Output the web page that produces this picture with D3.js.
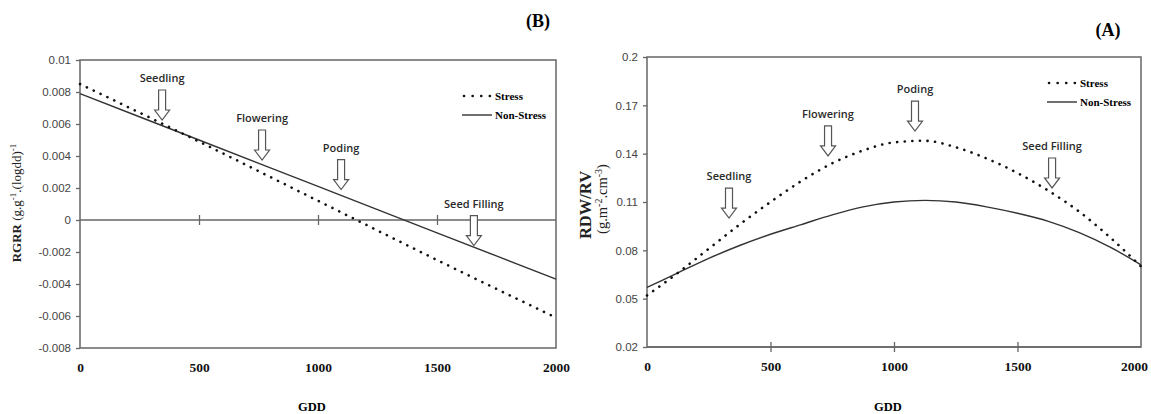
<!DOCTYPE html>
<html>
<head>
<meta charset="utf-8">
<script src="https://cdn.jsdelivr.net/npm/d3@7"></script>
<style>
  body { margin: 0; background: #fff; }
  .tick text { font-family: "Liberation Sans Narrow", "Liberation Sans", sans-serif; }
</style>
</head>
<body>
<div id="chart"></div>
<script>
// ---- data ----
var gddTicks = [0, 500, 1000, 1500, 2000];

// panel B : RGRR
var gddB = [0, 500, 1000, 1500, 2000];
var stressB = [0.0085, 0.0049, 0.0012, -0.0025, -0.0061];
var nonStressB = [0.0079, 0.0050, 0.0021, -0.0008, -0.0037];
var yTicksB = [-0.008, -0.006, -0.004, -0.002, 0, 0.002, 0.004, 0.006, 0.008, 0.01];

// panel A : RDW/RV
var gddA = [0, 125, 250, 375, 500, 625, 750, 875, 1000, 1125, 1250, 1375, 1500, 1625, 1750, 1875, 2000];
var stressA = [0.052, 0.066, 0.081, 0.096, 0.110, 0.123, 0.134, 0.142, 0.147, 0.148, 0.144, 0.137, 0.128, 0.117, 0.104, 0.088, 0.070];
var nonStressA = [0.057, 0.066, 0.075, 0.083, 0.090, 0.096, 0.102, 0.107, 0.110, 0.111, 0.110, 0.107, 0.103, 0.098, 0.091, 0.082, 0.071];
var yTicksA = [0.02, 0.05, 0.08, 0.11, 0.14, 0.17, 0.2];

// growth stage arrows (GDD, value at arrow tip)
var stages = ["Seedling", "Flowering", "Poding", "Seed Filling"];
var stageGddB = [345, 765, 1097, 1655];
var stageValB = [0.00625, 0.00375, 0.0019, -0.0016];
var stageGddA = [332, 733, 1085, 1640];
var stageValA = [0.100, 0.1386, 0.154, 0.1187];

var width = 1151, height = 414;
var axisCol = "#666";

var svg = d3.select("#chart").append("svg")
    .attr("width", width)
    .attr("height", height)
    .style("background", "#fff");

function zip(xs, ys) {
  return xs.map(function(g, i) { return {gdd: g, v: ys[i]}; });
}

function drawPanel(p) {
  var x = d3.scaleLinear().domain([0, 2000]).range([p.left, p.right]);
  var y = d3.scaleLinear().domain(p.yDomain).range([p.bottom, p.top]);
  var g = svg.append("g");

  // frame
  g.append("rect")
      .attr("x", p.left).attr("y", p.top)
      .attr("width", p.right - p.left).attr("height", p.bottom - p.top)
      .attr("fill", "none").attr("stroke", axisCol).attr("stroke-width", 1.5);

  // y axis
  g.append("g")
      .attr("transform", `translate(${p.left},0)`)
      .call(d3.axisLeft(y).tickValues(p.yTicks).tickSize(4).tickPadding(5)
        .tickFormat(function(d) { return String(+d.toFixed(3)); }))
      .call(function(a) { a.select(".domain").remove(); })
      .call(function(a) {
        a.selectAll("line").attr("stroke", axisCol).attr("stroke-width", 1.3);
        a.selectAll("text").attr("fill", "#444").style("font-size", "11.5px");
      });

  // x axis line (B sits at 0, A at the bottom)
  var yAx = y(p.xAxisAt);
  g.append("line")
      .attr("x1", p.left).attr("x2", p.right)
      .attr("y1", yAx).attr("y2", yAx)
      .attr("stroke", axisCol).attr("stroke-width", 1.5);
  g.append("g")
      .attr("transform", `translate(0,${yAx - 5})`)
      .call(d3.axisBottom(x).tickValues([500, 1000, 1500]).tickSize(10).tickFormat(""))
      .call(function(a) { a.select(".domain").remove(); })
      .call(function(a) { a.selectAll("line").attr("stroke", axisCol).attr("stroke-width", 1.3); });

  // x tick labels under the frame
  g.append("g")
      .attr("transform", `translate(0,${p.bottom})`)
      .call(d3.axisBottom(x).tickValues(gddTicks).tickSize(0).tickPadding(14).tickFormat(d3.format("d")))
      .call(function(a) { a.select(".domain").remove(); })
      .call(function(a) {
        a.selectAll("text")
          .attr("fill", "#111")
          .style("font-family", "Liberation Serif, serif")
          .style("font-weight", "bold")
          .style("font-size", "13.5px");
        a.selectAll(".tick:last-of-type text").attr("dx", p.lastDx);
      });

  g.append("text")
      .attr("x", (p.left + p.right) / 2 - 6)
      .attr("y", 411)
      .attr("text-anchor", "middle")
      .style("font-family", "Liberation Serif, serif")
      .style("font-weight", "bold")
      .style("font-size", "12.5px")
      .text("GDD");

  // lines
  var line = d3.line()
      .x(function(d) { return x(d.gdd); })
      .y(function(d) { return y(d.v); })
      .curve(d3.curveMonotoneX);

  g.append("path")
      .datum(zip(p.gdd, p.nonStress))
      .attr("d", line)
      .attr("fill", "none")
      .attr("stroke", "#333")
      .attr("stroke-width", 1.4);

  g.append("path")
      .datum(zip(p.gdd, p.stress))
      .attr("d", line)
      .attr("fill", "none")
      .attr("stroke", "#111")
      .attr("stroke-width", 2.6)
      .attr("stroke-linecap", "round")
      .attr("stroke-dasharray", "0.1,7.5");

  // stage arrows
  stages.forEach(function(s, i) {
    var tx = x(p.stageGdd[i]), ty = y(p.stageVal[i]);
    var L = 30;
    var path = [
      [tx - 3.5, ty - L], [tx + 3.5, ty - L], [tx + 3.5, ty - 10], [tx + 7.5, ty - 10],
      [tx, ty], [tx - 7.5, ty - 10], [tx - 3.5, ty - 10]
    ];
    g.append("path")
        .attr("d", "M" + path.join("L") + "Z")
        .attr("fill", "#fff")
        .attr("stroke", "#555")
        .attr("stroke-width", 1.2);
    g.append("text")
        .attr("x", tx)
        .attr("y", ty - L - 8)
        .attr("text-anchor", "middle")
        .attr("fill", "#2a2a2a")
        .style("font-family", "Open Sans, sans-serif")
        .style("font-weight", "600")
        .style("font-size", "11px")
        .text(s);
  });

  // legend
  var lg = g.append("g").attr("transform", `translate(${p.legendX},${p.legendY})`);
  lg.append("line")
      .attr("x1", 2).attr("x2", 30).attr("y1", 0).attr("y2", 0)
      .attr("stroke", "#111").attr("stroke-width", 2.6)
      .attr("stroke-linecap", "round").attr("stroke-dasharray", "0.1,8.5");
  lg.append("line")
      .attr("x1", 0).attr("x2", 30).attr("y1", 19).attr("y2", 19)
      .attr("stroke", "#333").attr("stroke-width", 1.4);
  lg.selectAll(".lt")
    .data(["Stress", "Non-Stress"])
    .join("text")
      .attr("x", 33)
      .attr("y", function(d, i) { return i * 19 + 4; })
      .style("font-family", "Liberation Serif, serif")
      .style("font-weight", "bold")
      .style("font-size", "11px")
      .text(function(d) { return d; });

  // panel tag
  g.append("text")
      .attr("x", p.tagX).attr("y", p.tagY)
      .attr("text-anchor", "middle")
      .style("font-family", "Liberation Serif, serif")
      .style("font-weight", "bold")
      .style("font-size", "18px")
      .text(p.tag);

  return {x: x, y: y, g: g};
}

var pB = drawPanel({
  left: 80, right: 556, top: 60, bottom: 348,
  yDomain: [-0.008, 0.01], yTicks: yTicksB, xAxisAt: 0,
  gdd: gddB, stress: stressB, nonStress: nonStressB,
  stageGdd: stageGddB, stageVal: stageValB,
  legendX: 462, legendY: 96, tag: "(B)", tagX: 538, tagY: 27, lastDx: 0
});

var pA = drawPanel({
  left: 647, right: 1141, top: 57, bottom: 347,
  yDomain: [0.02, 0.2], yTicks: yTicksA, xAxisAt: 0.02,
  gdd: gddA, stress: stressA, nonStress: nonStressA,
  stageGdd: stageGddA, stageVal: stageValA,
  legendX: 1047, legendY: 83, tag: "(A)", tagX: 1108, tagY: 36, lastDx: -7
});

// y labels
var labB = svg.append("text")
    .attr("transform", "translate(21,203) rotate(-90)")
    .attr("text-anchor", "middle")
    .style("font-family", "Liberation Serif, serif")
    .style("font-size", "13px")
    .attr("fill", "#222");
labB.append("tspan").style("font-weight", "bold").text("RGRR ");
labB.append("tspan").text("(g.g");
labB.append("tspan").attr("baseline-shift", "super").style("font-size", "9px").text("-1");
labB.append("tspan").text(".(logdd)");
labB.append("tspan").attr("baseline-shift", "super").style("font-size", "9px").text("-1");

svg.append("text")
    .attr("transform", "translate(591,205) rotate(-90)")
    .attr("text-anchor", "middle")
    .style("font-family", "Liberation Serif, serif")
    .style("font-weight", "bold")
    .style("font-size", "16.5px")
    .attr("fill", "#222")
    .text("RDW/RV");

var labA = svg.append("text")
    .attr("transform", "translate(607,199) rotate(-90)")
    .attr("text-anchor", "middle")
    .style("font-family", "Liberation Serif, serif")
    .style("font-size", "14.5px")
    .attr("fill", "#222");
labA.append("tspan").text("(g.m");
labA.append("tspan").attr("baseline-shift", "super").style("font-size", "10px").text("-2");
labA.append("tspan").text(".cm");
labA.append("tspan").attr("baseline-shift", "super").style("font-size", "10px").text("-3");
labA.append("tspan").text(")");
</script>
</body>
</html>
